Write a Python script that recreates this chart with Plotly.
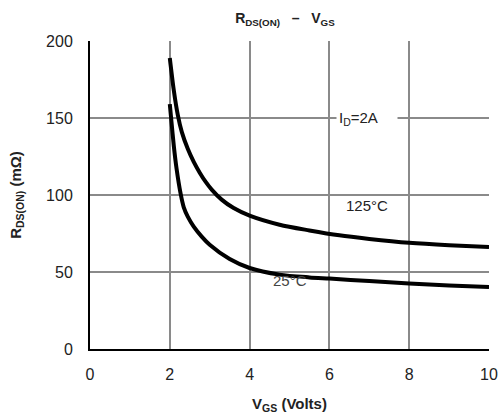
import plotly.graph_objects as go

# 125°C curve
vgs_125 = [2.0, 2.1, 2.2, 2.3, 2.45, 2.6, 2.75, 2.9, 3.05, 3.3, 3.6, 4.0, 4.75, 5.5, 6.25, 7.0, 8.0, 9.0, 10.0]
rds_125 = [189, 168, 152, 141, 130, 121.5, 114.5, 108.5, 103.5, 97, 91.5, 86.6, 80.7, 77, 73.8, 71.5, 69, 67.4, 66.2]

# 25°C curve
vgs_25 = [2.0, 2.04, 2.1, 2.17, 2.27, 2.35, 2.45, 2.6, 2.8, 3.0, 3.5, 4.0, 4.75, 5.5, 6.0, 7.0, 8.0, 9.0, 10.0]
rds_25 = [159, 148, 132, 117, 101, 92, 86, 79.5, 73, 67.7, 58.4, 52.6, 48.3, 46.5, 45.7, 44.1, 42.5, 41.3, 40.3]

x_ticks = [0, 2, 4, 6, 8, 10]
y_ticks = [0, 50, 100, 150, 200]

FONT = "Liberation Sans, Arial, sans-serif"

fig = go.Figure()
fig.add_trace(go.Scatter(x=vgs_125, y=rds_125, mode="lines",
                         line=dict(color="black", width=4, shape="spline", smoothing=0.8),
                         showlegend=False, hoverinfo="skip"))
fig.add_trace(go.Scatter(x=vgs_25, y=rds_25, mode="lines",
                         line=dict(color="black", width=4, shape="spline", smoothing=0.8),
                         showlegend=False, hoverinfo="skip"))

fig.add_annotation(x=6.94, y=150, text="I<sub>D</sub>=2A", showarrow=False,
                   bgcolor="white", width=56, align="left", borderpad=2,
                   font=dict(size=15, color="#222", family=FONT))
fig.add_annotation(x=6.95, y=93, text="125°C", showarrow=False,
                   font=dict(size=15, color="#222", family=FONT))
fig.add_annotation(x=5.02, y=44.5, text="25°C", showarrow=False,
                   font=dict(size=15, color="#444", family=FONT))

fig.update_layout(
    width=499, height=419,
    margin=dict(l=90, r=10, t=41, b=70),
    plot_bgcolor="white", paper_bgcolor="white",
    font=dict(family=FONT, color="#222"),
    title=dict(text="<b>R<sub>DS(ON)</sub>   –   V<sub>GS</sub></b>", x=0.571, xanchor="center",
               y=0.957, yanchor="middle", font=dict(size=14, color="#222", family=FONT)),
    xaxis=dict(range=[0, 10], tickvals=x_ticks, ticktext=[str(v) for v in x_ticks],
               automargin=False, ticklabelstandoff=10,
               showgrid=True, gridcolor="#8a8a8a", gridwidth=1.5,
               showline=True, linecolor="black", linewidth=2, zeroline=False,
               ticks="", ticklen=0, tickfont=dict(size=16, color="#222", family=FONT),
               title=dict(text="<b>V<sub>GS</sub> (Volts)</b>", standoff=16,
                          font=dict(size=15, color="#222", family=FONT))),
    yaxis=dict(range=[0, 200], tickvals=y_ticks, ticktext=[str(v) for v in y_ticks],
               automargin=False, ticklabelstandoff=12,
               showgrid=True, gridcolor="#8a8a8a", gridwidth=1.5,
               showline=True, linecolor="black", linewidth=2, zeroline=False,
               ticks="", ticklen=0, tickfont=dict(size=16, color="#222", family=FONT),
               title=dict(text="<b>R<sub>DS(ON)</sub> (mΩ)</b>", standoff=21,
                          font=dict(size=15, color="#222", family=FONT))),
)

fig.write_html("out.html", config={"displayModeBar": False},
               post_script="document.body.style.margin='0';")
